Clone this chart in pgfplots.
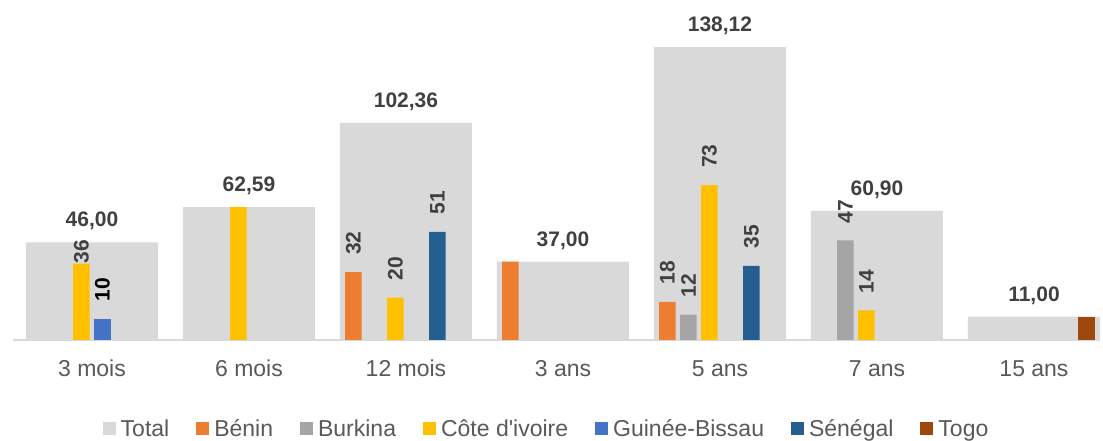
\documentclass[border=0pt]{standalone}
\usepackage{fontspec}
\setmainfont{Liberation Sans}
\usepackage{pgfplots}
\pgfplotsset{compat=1.18}
\usepackage{pgfplotstable}
\definecolor{cTotal}{HTML}{D9D9D9}
\definecolor{cBenin}{HTML}{ED7D31}
\definecolor{cBurkina}{HTML}{A5A5A5}
\definecolor{cCote}{HTML}{FFC000}
\definecolor{cGuinee}{HTML}{4472C4}
\definecolor{cSenegal}{HTML}{255E91}
\definecolor{cTogo}{HTML}{9E480E}
\definecolor{cText}{HTML}{595959}
\definecolor{cLabel}{HTML}{404040}

\pgfplotstableread{
x y
0 46.00
1 62.59
2 102.36
3 37.00
4 138.12
5 60.90
6 11.00
}\total
\pgfplotstableread{
x y lab off
2 32 1 17
3 37 0 0
4 18 1 17
}\benin
\pgfplotstableread{
x y lab off
4 12 1 17
5 47 1 17
}\burkina
\pgfplotstableread{
x y lab off
0 36 1 0
1 62.59 0 0
2 20 1 17
4 73 1 17
5 14 1 17
}\cote
\pgfplotstableread{
x y lab off
0 10 1 17
}\guinee
\pgfplotstableread{
x y lab off
2 51 1 17
4 35 1 17
}\senegal
\pgfplotstableread{
x y lab off
6 11 0 0
}\togo

\pgfplotsset{
  countrylab/.style={
    draw=none, bar width=16.5pt, bar shift=#1,
    visualization depends on={\thisrow{lab} \as \showlab},
    visualization depends on={\thisrow{off} \as \laboff},
    nodes near coords={\pgfmathprintnumber[fixed,precision=0,assume math mode=true]{\pgfplotspointmeta}},
    every node near coord/.append style={yshift=\laboff pt, rotate=90, anchor=west, inner sep=0pt,
      opacity=\showlab,
      font=\bfseries\fontsize{21}{25}\selectfont, text=cLabel},
  },
}

\begin{document}
\begin{tikzpicture}
\begin{axis}[
  scale only axis, width=1086.44pt, height=340pt,
  xmin=-0.5, xmax=6.42, ymin=0, ymax=160.3,
  axis x line=bottom, axis y line=none,
  x axis line style={-, draw=cTotal, line width=1.2pt},
  xtick={0,...,6},
  xticklabels={3 mois, 6 mois, 12 mois, 3 ans, 5 ans, 7 ans, 15 ans},
  major tick length=0pt,
  xticklabel style={anchor=base, yshift=-36.7pt, inner sep=0pt,
    font=\fontsize{23}{27}\selectfont, text=cText},
  ytick=\empty,
  ybar, clip=false,
  legend columns=-1,
  legend cell align=left,
  legend style={at={(0.4897,-0.2618)}, anchor=center, draw=none, fill=none,
    font=\fontsize{23}{27}\selectfont, text=cText, inner sep=0pt,
    nodes={inner sep=0pt}, cells={anchor=base west},
    /tikz/every odd column/.append style={column sep=5pt},
    /tikz/every even column/.append style={column sep=27pt}},
  legend image code/.code={\fill[#1] (0pt,1.7pt) rectangle (13pt,15pt);},
]
\addplot[fill=cTotal, draw=none, bar width=132pt, bar shift=0pt,
  nodes near coords={\pgfmathprintnumber[fixed, fixed zerofill, precision=2, use comma, assume math mode=true]{\pgfplotspointmeta}},
  every node near coord/.append style={anchor=base, yshift=15.5pt, inner sep=0pt,
    font=\bfseries\fontsize{21}{25}\selectfont, text=cLabel}]
  table[x=x,y=y]{\total};
\addplot[fill=cBenin, countrylab=-52.5pt] table[x=x,y=y]{\benin};
\addplot[fill=cBurkina, countrylab=-31.5pt] table[x=x,y=y]{\burkina};
\addplot[fill=cCote, countrylab=-10.5pt] table[x=x,y=y]{\cote};
\addplot[fill=cGuinee, countrylab=10.5pt, every node near coord/.append style={text=black}] table[x=x,y=y]{\guinee};
\addplot[fill=cSenegal, countrylab=31.5pt] table[x=x,y=y]{\senegal};
\addplot[fill=cTogo, countrylab=52.5pt] table[x=x,y=y]{\togo};
\legend{Total, Bénin, Burkina, Côte d\textquotesingle ivoire, Guinée-Bissau, Sénégal, Togo}
\end{axis}
\pgfresetboundingbox
\path[use as bounding box] (-13.5pt,-101pt) rectangle (1089.5pt,340pt);
\end{tikzpicture}
\end{document}
